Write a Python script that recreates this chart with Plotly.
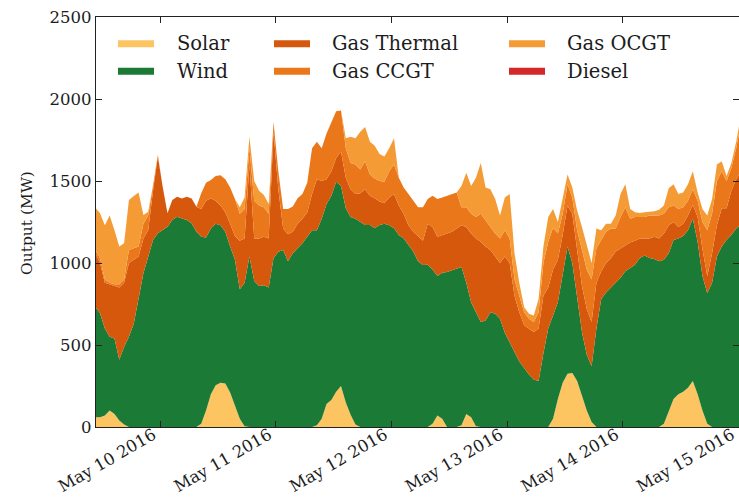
import pandas as pd
import plotly.graph_objects as go

# ---------------- data (hourly) ----------------
times = pd.date_range("2016-05-09 10:30", periods=135, freq="h")

solar = [
    60, 60, 70, 100, 80, 40, 15, 0, 0, 0,
    0, 0, 0, 0, 0, 0, 0, 0, 0, 0,
    0, 0, 20, 100, 200, 255, 270, 265, 210, 130,
    50, 5, 0, 0, 0, 0, 0, 0, 0, 0,
    0, 0, 0, 0, 0, 0, 10, 50, 140, 165,
    215, 250, 150, 75, 15, 0, 0, 0, 0, 0,
    0, 0, 0, 0, 0, 0, 0, 0, 0, 0,
    20, 70, 50, 0, 0, 0, 10, 80, 60, 5,
    0, 0, 0, 0, 0, 0, 0, 0, 0, 0,
    0, 0, 0, 0, 0, 50, 170, 270, 325, 330,
    280, 190, 100, 30, 0, 0, 0, 0, 0, 0,
    0, 0, 0, 0, 0, 0, 0, 0, 20, 100,
    170, 200, 215, 240, 280, 200, 100, 20, 0, 0,
    0, 0, 0, 0, 0,
]

wind = [
    674, 633, 530, 450, 460, 370, 475, 550, 630, 794,
    937, 1038, 1140, 1181, 1201, 1221, 1262, 1282, 1272, 1262,
    1242, 1191, 1140, 1055, 1010, 985, 960, 925, 890, 890,
    790, 875, 1040, 890, 860, 865, 850, 1030, 1069, 1080,
    1010, 1060, 1090, 1120, 1160, 1200, 1190, 1220, 1220, 1245,
    1280, 1220, 1184, 1205, 1255, 1250, 1232, 1232, 1212, 1232,
    1240, 1230, 1212, 1171, 1151, 1110, 1070, 1010, 988, 990,
    940, 850, 890, 945, 955, 968, 965, 800, 700, 695,
    640, 650, 700, 690, 660, 575, 515, 460, 400, 360,
    320, 290, 280, 450, 600, 630, 590, 660, 775, 670,
    500, 390, 340, 340, 600, 780, 820, 850, 885, 910,
    950, 970, 990, 1030, 1045, 1030, 1025, 1010, 1000, 960,
    970, 950, 950, 960, 990, 930, 820, 795, 880, 1040,
    1100, 1140, 1170, 1210, 1235,
]

gas_thermal = [
    326, 307, 280, 320, 320, 440, 390, 450, 390, 246,
    213, 162, 300, 469, 264, 82, 122, 122, 122, 142,
    152, 152, 170, 225, 185, 140, 120, 120, 140, 145,
    295, 270, 560, 260, 290, 295, 300, 770, 381, 130,
    165, 130, 150, 150, 150, 220, 310, 230, 150, 150,
    145, 210, 186, 170, 150, 175, 218, 178, 183, 143,
    125, 170, 208, 179, 149, 120, 120, 155, 147, 250,
    260, 240, 230, 235, 235, 242, 255, 340, 420, 450,
    490, 450, 380, 350, 340, 465, 485, 340, 300, 260,
    280, 290, 320, 350, 250, 280, 260, 240, 250, 300,
    300, 280, 280, 270, 280, 170, 180, 180, 185, 180,
    160, 155, 145, 120, 105, 120, 135, 140, 160, 170,
    110, 70, 75, 90, 84, 150, 165, 105, 180, 190,
    234, 194, 270, 300, 325,
]

gas_ccgt = [
    20, 30, 20, 10, 10, 20, 20, 80, 70, 60,
    90, 90, 30, 8, 0, 0, 0, 0, 0, 0,
    0, 0, 95, 110, 111, 150, 185, 200, 220, 225,
    165, 180, 100, 230, 200, 180, 150, 60, 110, 120,
    155, 155, 155, 150, 180, 280, 230, 200, 280, 295,
    285, 250, 180, 160, 180, 145, 170, 130, 120, 125,
    130, 160, 180, 170, 160, 190, 190, 175, 205, 150,
    190, 230, 230, 230, 230, 220, 110, 120, 120, 130,
    170, 160, 140, 140, 150, 160, 150, 100, 100, 80,
    60, 60, 100, 200, 280, 255, 160, 130, 130, 100,
    120, 220, 240, 260, 210, 190, 190, 180, 140, 190,
    230, 145, 145, 130, 130, 140, 130, 140, 120, 110,
    100, 110, 100, 90, 96, 100, 165, 280, 240, 270,
    226, 166, 140, 190, 290,
]

gas_ocgt = [
    259, 273, 330, 410, 330, 230, 220, 304, 318, 330,
    53, 23, 6, 2, 0, 0, 0, 0, 0, 0,
    0, 0, 0, 0, 0, 0, 0, 0, 0, 0,
    40, 70, 70, 120, 90, 75, 60, 0, 0, 0,
    0, 0, 0, 0, 0, 0, 0, 0, 0, 0,
    0, 0, 60, 160, 160, 230, 210, 200, 200, 165,
    155, 140, 160, 0, 0, 0, 0, 0, 0, 0,
    0, 0, 0, 0, 0, 0, 130, 210, 170, 240,
    310, 200, 230, 210, 140, 200, 270, 160, 80, 30,
    30, 40, 80, 100, 150, 115, 70, 90, 60, 60,
    120, 140, 150, 100, 120, 60, 50, 30, 80, 140,
    140, 60, 30, 25, 30, 23, 25, 35, 50, 116,
    130, 90, 90, 100, 110, 50, 80, 90, 90, 100,
    60, 30, 30, 40, 50,
]

diesel = [
    0, 0, 0, 0, 0, 0, 0, 0, 0, 0, 0, 0, 0, 0, 0, 0, 0, 0, 0, 0,
    0, 0, 0, 0, 0, 0, 0, 0, 0, 0, 0, 0, 0, 0, 0, 0, 0, 0, 0, 0,
    0, 0, 0, 0, 0, 0, 0, 0, 0, 0, 0, 0, 0, 0, 0, 0, 0, 0, 0, 0,
    0, 0, 0, 0, 0, 0, 0, 0, 0, 0, 0, 0, 0, 0, 0, 0, 0, 0, 0, 0,
    0, 0, 0, 0, 0, 0, 0, 0, 0, 0, 0, 0, 0, 0, 0, 0, 0, 0, 0, 0,
    0, 0, 0, 0, 0, 0, 0, 0, 0, 0, 0, 0, 0, 0, 0, 0, 0, 0, 0, 0,
    0, 0, 0, 0, 0, 0, 0, 0, 0, 0, 0, 0, 0, 0, 0,
]

series_names = ["Solar", "Wind", "Gas Thermal", "Gas CCGT", "Gas OCGT", "Diesel"]
series_values = [solar, wind, gas_thermal, gas_ccgt, gas_ocgt, diesel]
y_ticks = [0, 500, 1000, 1500, 2000, 2500]

# ---------------- styling ----------------
colors = {
    "Solar": "#fdc562",
    "Wind": "#1a7a36",
    "Gas Thermal": "#d5580d",
    "Gas CCGT": "#eb771b",
    "Gas OCGT": "#f59b36",
    "Diesel": "#d4272a",
}
FONT = "DejaVu Serif"
TXT = "#1c1c1c"
W, H = 739, 498
ML, MR, MT, MB = 96, 0, 17, 71
PW, PH = W - ML - MR, H - MT - MB

fig = go.Figure()
for name, vals in zip(series_names, series_values):
    fig.add_trace(go.Scatter(
        x=times, y=vals, name=name, mode="lines",
        stackgroup="one", line=dict(width=0, color=colors[name]),
        fillcolor=colors[name], showlegend=False, hoverinfo="skip",
    ))

# manual legend (3 columns x 2 rows, matplotlib-like)
legend_cols = [(118, 175), (274, 330), (509, 565)]
legend_rows = [43.7, 71.3]
def px_x(p):
    return (p - ML) / PW
def px_y(p):
    return (H - MB - p) / PH

shapes = []
annotations = []
for i, name in enumerate(series_names):
    col, row = divmod(i, 2)
    sx, tx = legend_cols[col]
    yy = px_y(legend_rows[row])
    shapes.append(dict(type="line", xref="paper", yref="paper",
                       x0=px_x(sx), x1=px_x(sx + 36), y0=yy, y1=yy,
                       line=dict(color=colors[name], width=7), layer="above"))
    annotations.append(dict(text=name, xref="paper", yref="paper",
                            x=px_x(tx), y=yy, xanchor="left", yanchor="middle",
                            showarrow=False, font=dict(family=FONT, size=19.5, color=TXT)))

# y-axis title placed as a rotated annotation
annotations.append(dict(text="Output (MW)", xref="paper", yref="paper",
                        x=px_x(27), y=px_y(223), xanchor="center", yanchor="middle",
                        textangle=-90, showarrow=False,
                        font=dict(family=FONT, size=15.5, color=TXT)))

fig.update_layout(
    width=W, height=H,
    margin=dict(l=ML, r=MR, t=MT, b=MB, pad=0, autoexpand=False),
    paper_bgcolor="white", plot_bgcolor="white",
    font=dict(family=FONT, color=TXT),
    shapes=shapes, annotations=annotations,
    showlegend=False,
)
fig.update_xaxes(
    type="date", automargin=False,
    range=["2016-05-09 10:40", "2016-05-15 00:05"],
    tick0="2016-05-10", dtick=86400000, tickformat="%b %d %Y",
    tickangle=-30, tickfont=dict(family=FONT, size=16.5, color=TXT),
    ticklabelstandoff=-9, ticklabelshift=-7, ticklabeloverflow="allow",
    ticks="inside", ticklen=6, tickcolor="#222222",
    showline=True, linecolor="#222222", linewidth=1.2, mirror="ticks",
    showgrid=False, zeroline=False,
)
fig.update_yaxes(
    automargin=False,
    range=[0, 2500], tickvals=y_ticks,
    tickfont=dict(family=FONT, size=16.5, color=TXT),
    ticks="inside", ticklen=6, tickcolor="#222222",
    showline=True, linecolor="#222222", linewidth=1.2, mirror="ticks",
    showgrid=False, zeroline=False,
)

fig.write_html(
    "out.html",
    config={"displayModeBar": False},
    post_script="document.body.style.margin='0px';document.body.style.overflow='hidden';",
)
